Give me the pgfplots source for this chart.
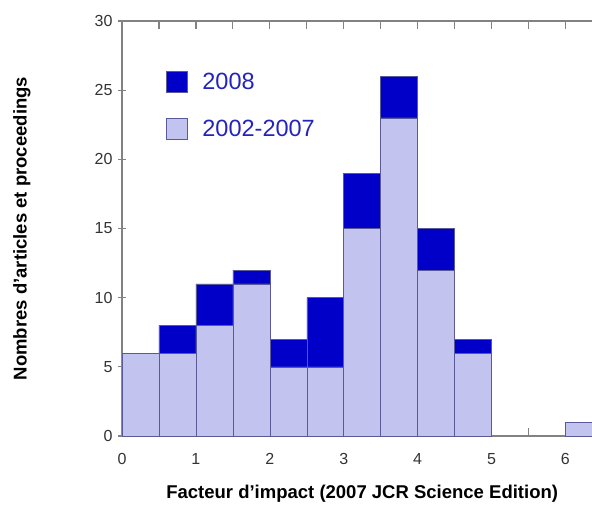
\documentclass[border=0pt]{standalone}
\usepackage{pgfplots}
\pgfplotsset{compat=1.18}
\usepackage{fontspec}
\setmainfont{Liberation Sans}

\definecolor{darkbar}{RGB}{0,0,200}
\definecolor{lightbar}{RGB}{195,195,240}
\definecolor{baredge}{RGB}{90,90,150}
\definecolor{axisgray}{RGB}{130,130,130}
\definecolor{legendtext}{RGB}{35,35,190}

\begin{document}
\begin{tikzpicture}
\begin{axis}[
  at={(122pt,68pt)}, anchor=south west,
  scale only axis,
  width=480.4pt, height=415pt,
  xmin=0, xmax=6.5, ymin=0, ymax=30,
  clip=false,
  ybar stacked, bar width=0.5,
  axis line style={axisgray, line width=1.4pt},
  xtick={0,1,2,3,4,5,6},
  minor xtick={0.5,1.5,2.5,3.5,4.5,5.5,6.5},
  ytick={0,5,10,15,20,25,30},
  tick pos=both,
  x tick style={axisgray, line width=1.2pt},
  y tick style={axisgray, line width=1.2pt},
  xtick align=inside,
  ytick align=center,
  major tick length=8pt, minor tick length=8pt,
  /pgf/number format/assume math mode=true,
  tick label style={font=\fontsize{16}{18}\selectfont, text=black!80},
  xticklabel style={yshift=-14pt},
  yticklabel style={xshift=-2pt},
  xticklabel pos=lower, yticklabel pos=left,
  xlabel={\bfseries Facteur d'impact (2007 JCR Science Edition)},
  ylabel={\bfseries Nombres d'articles et proceedings},
  label style={font=\fontsize{18.5}{20}\selectfont, text=black},
  xlabel style={at={(0.5,0)}, anchor=center, yshift=-58pt},
  ylabel style={at={(0,0.5)}, anchor=center, yshift=100pt},
  reverse legend,
  legend style={at={(0.091,0.88)}, anchor=north west, draw=none, fill=none,
    font=\fontsize{23.5}{26}\selectfont, text=legendtext,
    row sep=25pt, inner sep=0pt},
  legend image code/.code={\draw[#1] (0pt,-10.5pt) rectangle (21pt,10.5pt);},
  legend cell align=left,
]
% 2002-2007 counts per impact-factor bin (width 0.5)
\addplot+[fill=lightbar, draw=baredge, line width=0.5pt] coordinates {
  (0.25,6) (0.75,6) (1.25,8) (1.75,11) (2.25,5) (2.75,5)
  (3.25,15) (3.75,23) (4.25,12) (4.75,6) (6.25,1)};
\addlegendentry{\hspace{13pt}2002-2007}
% 2008 counts stacked on top
\addplot+[fill=darkbar, draw=baredge, line width=0.5pt] coordinates {
  (0.25,0) (0.75,2) (1.25,3) (1.75,1) (2.25,2) (2.75,5)
  (3.25,4) (3.75,3) (4.25,3) (4.75,1) (6.25,0)};
\addlegendentry{\hspace{13pt}2008}
% upper frame line with its half-unit ticks
\draw[axisgray, line width=1.4pt] (rel axis cs:0,1) -- (rel axis cs:1,1);
\pgfplotsinvokeforeach{0.5,1,...,6.5}{
  \draw[axisgray, line width=1.2pt] (axis cs:#1,30) -- ++(0pt,-8pt);
}
\end{axis}
% the page shows the part of the plot left of x = 6.36
\pgfresetboundingbox
\useasboundingbox (0,0) rectangle (592pt,504pt);
\end{tikzpicture}
\end{document}
